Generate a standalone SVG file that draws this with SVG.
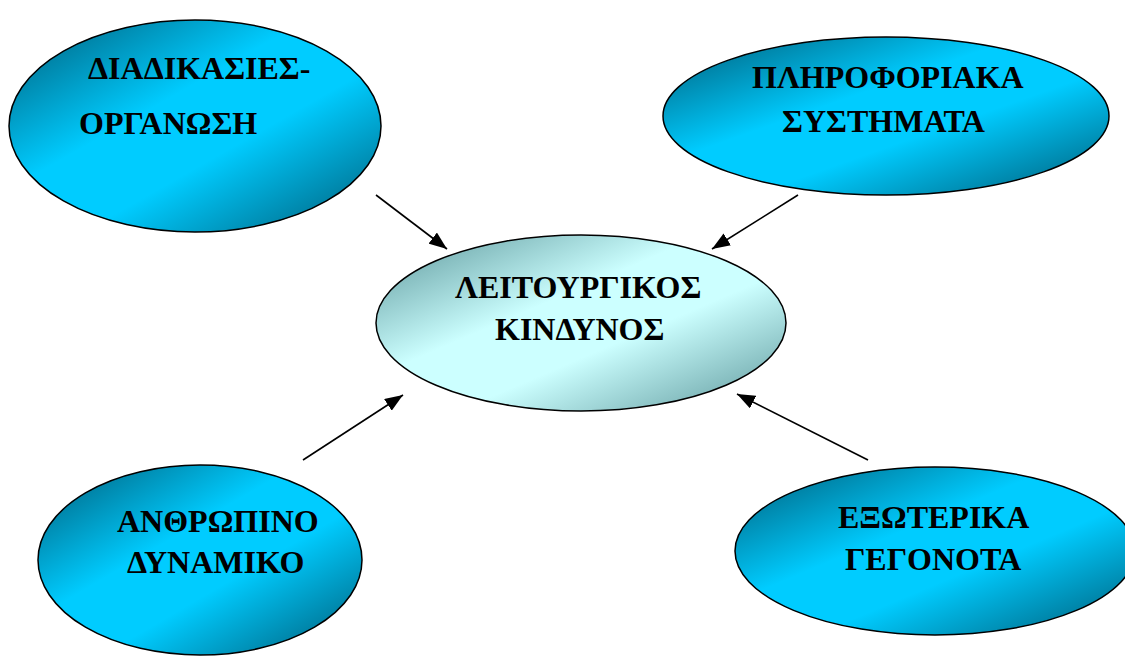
<svg xmlns="http://www.w3.org/2000/svg" width="1125" height="657" viewBox="0 0 1125 657">
  <style>
    .node { stroke: #000; stroke-width: 1.5; }
    .lbl { font-family: "Liberation Serif", "Times New Roman", serif; font-weight: bold; font-size: 32px; fill: #000; }
    .conn { stroke: #000; stroke-width: 1.6; fill: none; marker-end: url(#arrow); }
  </style>
  <defs>
    <linearGradient id="blue" x1="0" y1="0" x2="1" y2="1">
      <stop offset="0" stop-color="#005A75"/>
      <stop offset="0.4" stop-color="#00CCFF"/>
      <stop offset="0.6" stop-color="#00CCFF"/>
      <stop offset="1" stop-color="#005A75"/>
    </linearGradient>
    <linearGradient id="pale" x1="0" y1="0" x2="1" y2="1">
      <stop offset="0" stop-color="#5A9498"/>
      <stop offset="0.4" stop-color="#CCFFFF"/>
      <stop offset="0.6" stop-color="#CCFFFF"/>
      <stop offset="1" stop-color="#5A9498"/>
    </linearGradient>
    <marker id="arrow" markerWidth="18" markerHeight="14" refX="18" refY="7" orient="auto" markerUnits="userSpaceOnUse" viewBox="0 0 18 14">
      <path d="M0,0 L18,7 L0,14 Z" fill="#000"/>
    </marker>
  </defs>
  <rect width="1125" height="657" fill="#fff"/>

  <g id="node-diadikasies">
    <ellipse class="node" cx="195" cy="126" rx="186" ry="106" fill="url(#blue)"/>
    <text class="lbl" x="88" y="79">ΔΙΑΔΙΚΑΣΙΕΣ-</text>
    <text class="lbl" x="79" y="134">ΟΡΓΑΝΩΣΗ</text>
  </g>

  <g id="node-pliroforiaka">
    <ellipse class="node" cx="886" cy="116" rx="223" ry="79" fill="url(#blue)"/>
    <text class="lbl" x="752" y="88">ΠΛΗΡΟΦΟΡΙΑΚΑ</text>
    <text class="lbl" x="782" y="132">ΣΥΣΤΗΜΑΤΑ</text>
  </g>

  <g id="node-leitourgikos">
    <ellipse class="node" cx="581" cy="323" rx="205" ry="88" fill="url(#pale)"/>
    <text class="lbl" x="455" y="298">ΛΕΙΤΟΥΡΓΙΚΟΣ</text>
    <text class="lbl" x="495" y="340">ΚΙΝΔΥΝΟΣ</text>
  </g>

  <g id="node-anthropino">
    <ellipse class="node" cx="200" cy="560" rx="162" ry="95" fill="url(#blue)"/>
    <text class="lbl" x="117" y="532">ΑΝΘΡΩΠΙΝΟ</text>
    <text class="lbl" x="127" y="573">ΔΥΝΑΜΙΚΟ</text>
  </g>

  <g id="node-exoterika">
    <ellipse class="node" cx="935" cy="551" rx="200" ry="84" fill="url(#blue)"/>
    <text class="lbl" x="838" y="528">ΕΞΩΤΕΡΙΚΑ</text>
    <text class="lbl" x="845" y="570">ΓΕΓΟΝΟΤΑ</text>
  </g>

  <g id="connectors">
    <line class="conn" x1="376" y1="195" x2="447" y2="249"/>
    <line class="conn" x1="798" y1="195" x2="712" y2="249"/>
    <line class="conn" x1="303" y1="460" x2="403" y2="395"/>
    <line class="conn" x1="868" y1="460" x2="737" y2="394"/>
  </g>
</svg>
